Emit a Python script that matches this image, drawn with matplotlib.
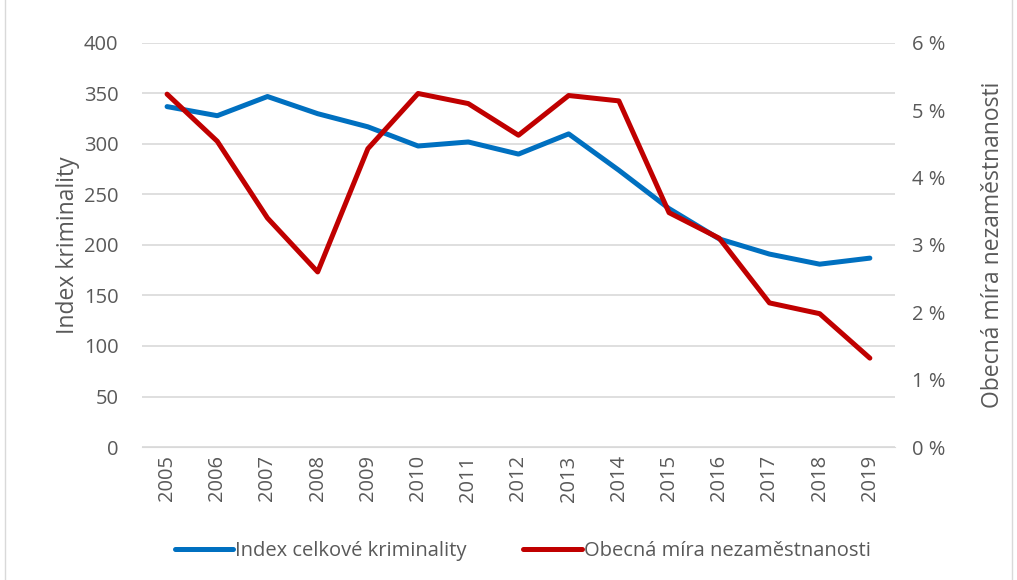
import matplotlib.pyplot as plt
import matplotlib.patches as patches
from matplotlib.ticker import FuncFormatter

years = [str(y) for y in range(2005, 2020)]
kriminalita = [337, 328, 347, 330, 317, 298, 302, 290, 310, 274, 236, 206, 191, 181, 187]
nezamestnanost = [5.24, 4.54, 3.40, 2.60, 4.43, 5.25, 5.10, 4.63, 5.22, 5.14, 3.48, 3.10, 2.14, 1.98, 1.32]

plt.rcParams['font.family'] = ['Open Sans', 'DejaVu Sans']
text_col = '#595959'

fig = plt.figure(figsize=(10.17, 5.8), dpi=100)
fig.patch.set_facecolor('white')
fig.patches.append(patches.Rectangle((0.005, -0.01), 0.99, 1.02, transform=fig.transFigure,
                                     fill=False, ec='#d9d9d9', lw=1))

ax = fig.add_axes([0.1396, 0.2293, 0.7404, 0.6966])
ax2 = ax.twinx()

x = range(len(years))
l1, = ax.plot(x, kriminalita, color='#0070C0', lw=3.6, solid_capstyle='round',
              label='Index celkové kriminality')
l2, = ax2.plot(x, nezamestnanost, color='#C00000', lw=3.6, solid_capstyle='round',
               label='Obecná míra nezaměstnanosti')

ax.set_xlim(-0.5, len(years) - 0.5)
ax.set_ylim(0, 400)
ax.set_yticks(range(0, 401, 50))
ax2.set_ylim(0, 6)
ax2.set_yticks(range(0, 7))
ax2.yaxis.set_major_formatter(FuncFormatter(lambda v, p: f'{int(v)} %'))

ax.set_xticks(list(x))
ax.set_xticklabels(years, rotation=90)
ax.grid(axis='y', color='#d9d9d9', lw=1.2)
ax.set_axisbelow(True)

for a in (ax, ax2):
    for s in a.spines.values():
        s.set_visible(False)
    a.tick_params(length=0, labelsize=14.5, colors=text_col)
ax.spines['bottom'].set_visible(True)
ax.spines['bottom'].set_color('#d9d9d9')
ax.tick_params(axis='y', pad=17)
ax2.tick_params(axis='y', pad=12)
ax.tick_params(axis='x', pad=6)

ax.set_ylabel('Index kriminality', fontsize=16.5, color=text_col, labelpad=3)
ax2.set_ylabel('Obecná míra nezaměstnanosti', fontsize=16.5, color=text_col, labelpad=26)

fig.legend(handles=[l1, l2], loc='center', bbox_to_anchor=(0.514, 0.05), ncol=2,
           frameon=False, fontsize=14.5, labelcolor=text_col, handlelength=2.9,
           handletextpad=0.1, columnspacing=2.8)

fig.savefig('out.png', dpi=100)
